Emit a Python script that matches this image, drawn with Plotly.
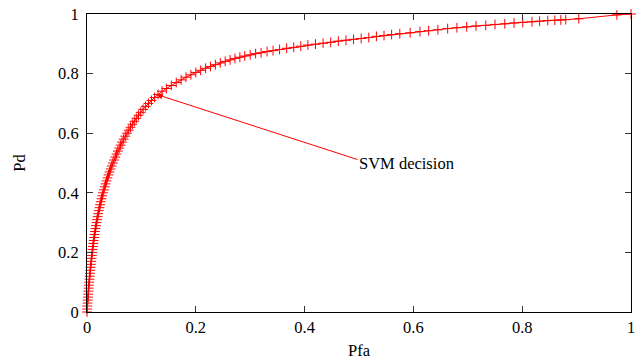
import plotly.graph_objects as go

# ROC curve (Pfa, Pd)
pfa = [
    0.0, 0.0003, 0.0006, 0.001, 0.0014, 0.0018, 0.0022, 0.0026, 0.003, 0.0035,
    0.004, 0.0045, 0.005, 0.0055, 0.006, 0.0066, 0.0072, 0.0078, 0.0084, 0.009,
    0.0095, 0.0102, 0.0109, 0.0116, 0.0123, 0.0131, 0.0139, 0.0147, 0.0156, 0.0165,
    0.0175, 0.0185, 0.0195, 0.0206, 0.0217, 0.0229, 0.0241, 0.0254, 0.0267, 0.0281,
    0.0295, 0.031, 0.0326, 0.0342, 0.0359, 0.0377, 0.0395, 0.0414, 0.0434, 0.0454,
    0.0475, 0.0497, 0.052, 0.0543, 0.0567, 0.0592, 0.0618, 0.0645, 0.0674, 0.0704,
    0.0735, 0.0767, 0.08, 0.0834, 0.087, 0.0907, 0.0946, 0.0988, 0.1032, 0.1079,
    0.113, 0.1185, 0.1243, 0.1305,
    0.138, 0.146, 0.155, 0.164, 0.173, 0.182, 0.191, 0.2, 0.209, 0.218,
    0.227, 0.236, 0.245, 0.254, 0.263, 0.272, 0.281, 0.29, 0.3, 0.31,
    0.32, 0.331, 0.342, 0.354, 0.367, 0.38, 0.393, 0.406, 0.42, 0.434,
    0.448, 0.462, 0.476, 0.49, 0.504, 0.518, 0.532, 0.546, 0.56, 0.575,
    0.594, 0.612, 0.628, 0.645, 0.663, 0.68, 0.698, 0.715, 0.733, 0.75,
    0.768, 0.785, 0.801, 0.818, 0.832, 0.847, 0.86, 0.871, 0.88, 0.904,
    0.974, 1.0,
]
pd_vals = [
    0.0, 0.01, 0.02, 0.03, 0.04, 0.05, 0.06, 0.07, 0.08, 0.09,
    0.10, 0.11, 0.12, 0.13, 0.14, 0.15, 0.16, 0.17, 0.18, 0.19,
    0.20, 0.21, 0.22, 0.23, 0.24, 0.25, 0.26, 0.27, 0.28, 0.29,
    0.30, 0.31, 0.32, 0.33, 0.34, 0.35, 0.36, 0.37, 0.38, 0.39,
    0.40, 0.41, 0.42, 0.43, 0.44, 0.45, 0.46, 0.47, 0.48, 0.49,
    0.50, 0.51, 0.52, 0.53, 0.54, 0.55, 0.56, 0.57, 0.58, 0.59,
    0.60, 0.61, 0.62, 0.63, 0.64, 0.65, 0.66, 0.67, 0.68, 0.69,
    0.70, 0.71, 0.72, 0.73,
    0.741, 0.75, 0.76, 0.77, 0.779, 0.788, 0.796, 0.804, 0.811, 0.818,
    0.824, 0.83, 0.836, 0.841, 0.846, 0.851, 0.855, 0.859, 0.863, 0.867,
    0.87, 0.874, 0.877, 0.881, 0.885, 0.888, 0.892, 0.896, 0.899, 0.902,
    0.905, 0.909, 0.912, 0.915, 0.918, 0.921, 0.925, 0.928, 0.931, 0.934,
    0.937, 0.941, 0.944, 0.947, 0.951, 0.954, 0.957, 0.96, 0.962, 0.965,
    0.967, 0.97, 0.972, 0.974, 0.976, 0.978, 0.979, 0.98, 0.981, 0.984,
    0.997, 1.0,
]

tick_vals = [0, 0.2, 0.4, 0.6, 0.8, 1]
tick_text = ["0", "0.2", "0.4", "0.6", "0.8", "1"]

label_text = "SVM decision"
label_pos = (0.5, 0.5)
arrow_start = (0.5, 0.51)
arrow_tip = (0.128, 0.73)

FONT = "Liberation Serif"
FS = 16.5

fig = go.Figure()
fig.add_trace(go.Scatter(
    x=pfa, y=pd_vals, mode="lines+markers",
    line=dict(color="#ff0000", width=1),
    marker=dict(symbol="cross-thin", size=7, color="#ff0000",
                line=dict(color="#ff0000", width=1)),
    cliponaxis=False, showlegend=False,
))

fig.add_annotation(
    x=arrow_tip[0], y=arrow_tip[1], ax=arrow_start[0], ay=arrow_start[1],
    xref="x", yref="y", axref="x", ayref="y", text="",
    showarrow=True, arrowhead=2, arrowsize=1.2, arrowwidth=1, arrowcolor="#ff0000",
)
fig.add_annotation(
    x=label_pos[0], y=label_pos[1], xref="x", yref="y", text=label_text,
    showarrow=False, xanchor="left", yanchor="middle", xshift=-2,
    font=dict(family=FONT, size=FS, color="black"),
)

axis_common = dict(
    range=[0, 1], tickvals=tick_vals, ticktext=tick_text,
    ticks="inside", ticklen=6, tickwidth=1, tickcolor="#333333",
    showline=True, linecolor="black", linewidth=1, mirror="allticks",
    showgrid=False, zeroline=False, ticklabeloverflow="allow",
    tickfont=dict(family=FONT, size=FS, color="black"),
    title_font=dict(family=FONT, size=FS, color="black"),
)

fig.update_xaxes(**axis_common, title_text="Pfa", title_standoff=8, automargin=False)
fig.update_yaxes(**axis_common, title_text="Pd", title_standoff=28,
                 ticklabelstandoff=4, automargin=False)

fig.update_layout(
    width=640, height=360,
    margin=dict(l=87, r=9, t=14, b=48),
    paper_bgcolor="white", plot_bgcolor="white",
    font=dict(family=FONT, size=FS, color="black"),
    hovermode=False,
)

fig.write_html("out.html", config={"displayModeBar": False},
               post_script="document.body.style.margin='0';")
